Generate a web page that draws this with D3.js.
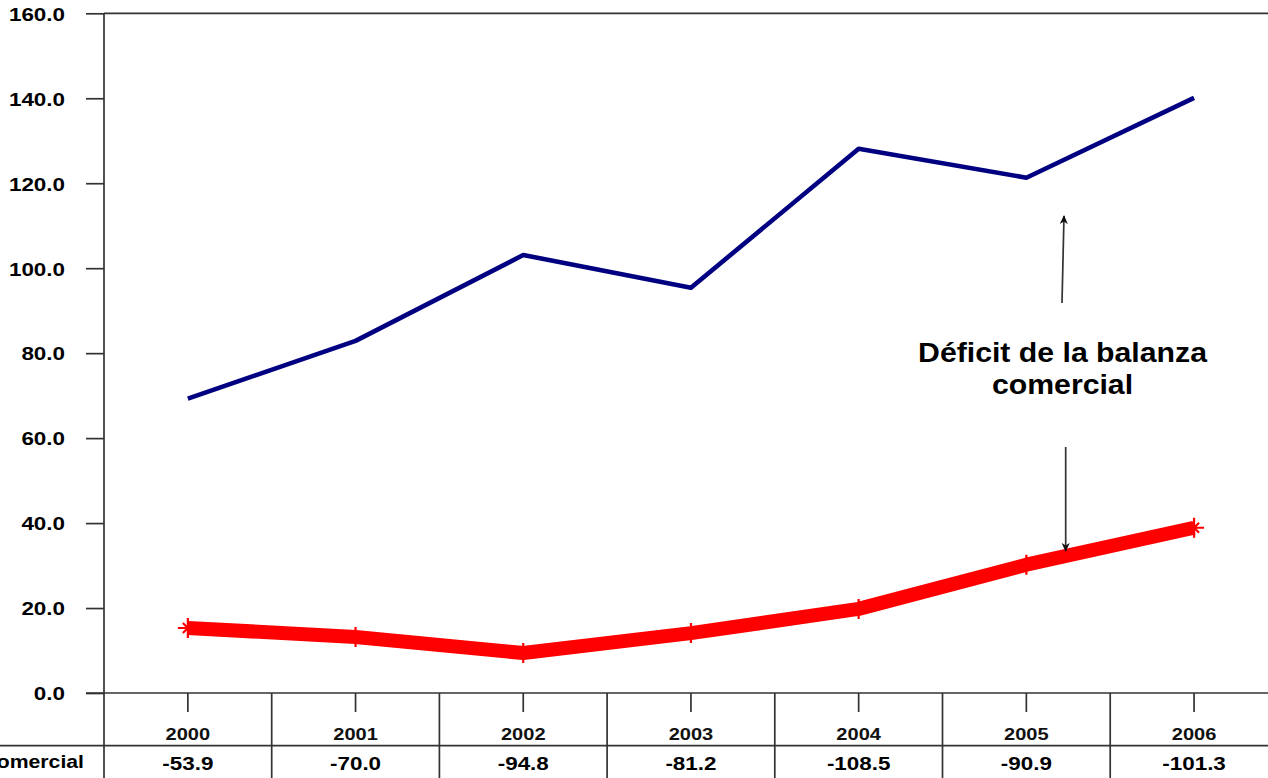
<!DOCTYPE html>
<html>
<head>
<meta charset="utf-8">
<script src="https://cdn.jsdelivr.net/npm/d3@7"></script>
<style>
  html, body { margin: 0; padding: 0; background: #fff; }
  svg { display: block; font-family: "Liberation Sans", Arial, sans-serif; }
</style>
</head>
<body>
<svg id="chart" width="1268" height="778"></svg>
<script>
// Years shown on the category axis
const years = ["2000", "2001", "2002", "2003", "2004", "2005", "2006"];
// Imports (blue line)
const importaciones = [69.3, 82.9, 103.1, 95.4, 128.1, 121.3, 140.1];
// Exports (red line)
const exportaciones = [15.3, 13.2, 9.4, 14.1, 19.8, 30.2, 38.9];
// Trade balance shown in the table row under the axis
const balanza = ["-53.9", "-70.0", "-94.8", "-81.2", "-108.5", "-90.9", "-101.3"];
const yTicks = [0, 20, 40, 60, 80, 100, 120, 140, 160];
const rowLabel = "Balanza comercial";
const noteLines = ["Déficit de la balanza", "comercial"];

const svg = d3.select("#chart");
const W = 1268, H = 778;
const plotLeft = 104, plotTop = 13.3, plotBottom = 693;
const bandW = 167.7;
const SX = 1.18; // horizontal stretch of the text

const x = d3.scaleBand().domain(years).range([plotLeft, plotLeft + bandW * years.length]).padding(0);
const y = d3.scaleLinear().domain([0, 160]).range([plotBottom, plotTop]);
const cx = d => x(d) + x.bandwidth() / 2;

const ink = "#333";

// top frame line
svg.append("line")
  .attr("x1", plotLeft).attr("x2", W).attr("y1", plotTop).attr("y2", plotTop)
  .attr("stroke", ink).attr("stroke-width", 1.7);

// left value axis
const yAxis = svg.append("g")
  .attr("transform", `translate(${plotLeft},0)`)
  .call(d3.axisLeft(y).tickValues(yTicks).tickFormat(d3.format(".1f")).tickSize(18).tickPadding(0));
yAxis.select(".domain").remove();
yAxis.selectAll(".tick line").attr("stroke", ink).attr("stroke-width", 1.7);
yAxis.selectAll(".tick text")
  .attr("x", -39 / SX)
  .attr("dy", "0.36em")
  .attr("transform", `scale(${SX},1)`)
  .attr("fill", "#000")
  .style("font-size", "19px")
  .style("font-weight", "bold");

// left axis line runs down through the table
svg.append("line")
  .attr("x1", plotLeft).attr("x2", plotLeft).attr("y1", plotTop).attr("y2", H)
  .attr("stroke", ink).attr("stroke-width", 1.7);

// category axis with ticks at band centres
const xAxis = svg.append("g")
  .attr("transform", `translate(0,${plotBottom})`)
  .call(d3.axisBottom(x).tickSize(19).tickFormat(""));
xAxis.select(".domain").remove();
xAxis.selectAll(".tick line").attr("stroke", ink).attr("stroke-width", 1.7);
svg.append("line")
  .attr("x1", plotLeft - 18).attr("x2", W).attr("y1", plotBottom).attr("y2", plotBottom)
  .attr("stroke", ink).attr("stroke-width", 1.7);

// table grid: band separators and row divider
svg.append("g").selectAll("line")
  .data(years.slice(1))
  .join("line")
  .attr("x1", d => x(d)).attr("x2", d => x(d))
  .attr("y1", plotBottom).attr("y2", H)
  .attr("stroke", ink).attr("stroke-width", 1.7);
svg.append("line")
  .attr("x1", 0).attr("x2", W).attr("y1", 745.7).attr("y2", 745.7)
  .attr("stroke", ink).attr("stroke-width", 1.7);

// year labels
svg.append("g").selectAll("text")
  .data(years)
  .join("text")
  .attr("transform", d => `translate(${cx(d)},740) scale(${SX},1)`)
  .attr("text-anchor", "middle")
  .style("font-size", "17px")
  .style("font-weight", "bold")
  .style("fill", "#111")
  .text(d => d);

// balance row
svg.append("g").selectAll("text")
  .data(years)
  .join("text")
  .attr("transform", d => `translate(${cx(d)},770) scale(${SX},1)`)
  .attr("text-anchor", "middle")
  .style("font-size", "19px")
  .style("font-weight", "bold")
  .text((d, i) => balanza[i]);
svg.append("text")
  .attr("transform", `translate(84,768) scale(${SX},1)`)
  .attr("text-anchor", "end")
  .style("font-size", "18px")
  .style("font-weight", "bold")
  .text(rowLabel);

// series lines
const line = d3.line().x(d => cx(d.year)).y(d => y(d.v));
const impData = years.map((yr, i) => ({ year: yr, v: importaciones[i] }));
const expData = years.map((yr, i) => ({ year: yr, v: exportaciones[i] }));

svg.append("path")
  .datum(expData)
  .attr("d", line)
  .attr("fill", "none")
  .attr("stroke", "#ff0000")
  .attr("stroke-width", 14)
  .attr("stroke-linejoin", "round");

// star markers on the export line
svg.append("g").selectAll("path")
  .data(expData)
  .join("path")
  .attr("transform", d => `translate(${cx(d.year)},${y(d.v)})`)
  .attr("d", "M0,-10V10M-10,0H10M-5,-5L5,5M-5,5L5,-5")
  .attr("stroke", "#ff0000")
  .attr("stroke-width", 2.2)
  .attr("fill", "none");

svg.append("path")
  .datum(impData)
  .attr("d", line)
  .attr("fill", "none")
  .attr("stroke", "#000080")
  .attr("stroke-width", 4.6)
  .attr("stroke-linejoin", "round");

// annotation with arrows
const defs = svg.append("defs");
defs.append("marker")
  .attr("id", "head")
  .attr("viewBox", "0 -5 10 10")
  .attr("refX", 9).attr("refY", 0)
  .attr("markerWidth", 9).attr("markerHeight", 9)
  .attr("markerUnits", "userSpaceOnUse")
  .attr("orient", "auto")
  .append("path")
  .attr("d", "M0,-4.5L10,0L0,4.5L3,0Z")
  .attr("fill", "#111");

const noteX = 1062.5;
svg.append("line")
  .attr("x1", 1062).attr("y1", 303).attr("x2", 1064).attr("y2", 216)
  .attr("stroke", ink).attr("stroke-width", 1.7)
  .attr("marker-end", "url(#head)");
svg.append("line")
  .attr("x1", 1065.7).attr("y1", 447).attr("x2", 1065.7).attr("y2", 551)
  .attr("stroke", ink).attr("stroke-width", 1.7)
  .attr("marker-end", "url(#head)");

svg.append("g").selectAll("text")
  .data(noteLines)
  .join("text")
  .attr("transform", (d, i) => `translate(${noteX},${362 + i * 32}) scale(1.08,1)`)
  .attr("text-anchor", "middle")
  .style("font-size", "28px")
  .style("font-weight", "bold")
  .text(d => d);
</script>
</body>
</html>
